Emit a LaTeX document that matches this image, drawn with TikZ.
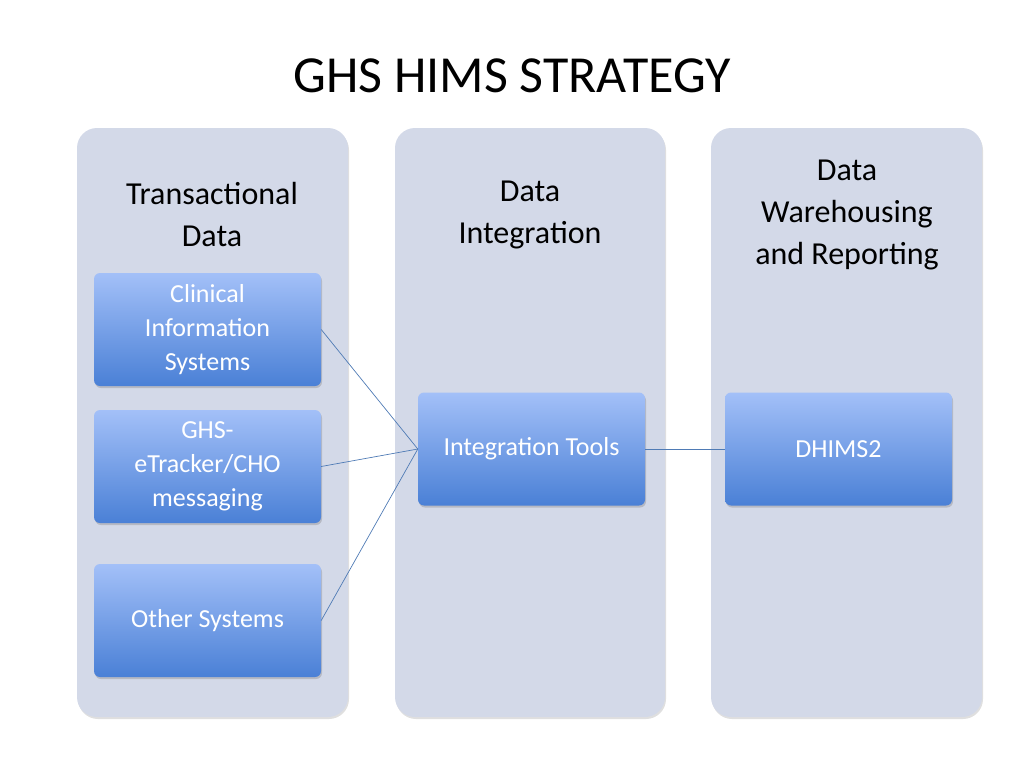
\documentclass[tikz,border=0pt]{standalone}
\usepackage{fontspec}
\setmainfont{Carlito}
\usetikzlibrary{shadows}
\begin{document}
\begin{tikzpicture}[x=1pt,y=-1pt,
 col/.style={fill=colbg,rounded corners=20pt,drop shadow={opacity=0.25,shadow xshift=1pt,shadow yshift=-2pt}},
 hdr/.style={font=\fontsize{32}{42}\selectfont,align=center,text=black},
 bx/.style={rounded corners=6pt,top color=boxtop,bottom color=boxbot,draw=none,text=white,align=center,
   font=\fontsize{26}{34}\selectfont,drop shadow={opacity=0.35,shadow xshift=1pt,shadow yshift=-2pt},
   minimum width=227pt,minimum height=113pt,inner sep=2pt},
 ln/.style={draw=lncol,line width=0.7pt}]
\definecolor{colbg}{HTML}{D3D9E8}
\definecolor{boxtop}{HTML}{A3C0F8}
\definecolor{boxbot}{HTML}{4A80D6}
\definecolor{lncol}{HTML}{4F7BB5}
\useasboundingbox (0,0) rectangle (1024,768);
\node (title) at (512,76) {\fontsize{52}{60}\selectfont GHS HIMS STRATEGY};
\path[col] (77,128) rectangle (348,717);
\path[col] (395,128) rectangle (665,717);
\path[col] (711,128) rectangle (982,717);
\node[hdr] (h1) at (212,215) {Transactional\\Data};
\node[hdr] (h2) at (530,215) {Data\\Integration};
\node[hdr] (h3) at (847,215) {Data\\Warehousing\\and Reporting};
\node[bx] (cis) at (207.5,329.5) {Clinical\\Information\\Systems};
\node[bx] (ghs) at (207.5,466.5) {GHS-\\eTracker/CHO\\messaging};
\node[bx] (oth) at (207.5,620.5) {Other Systems};
\node[bx] (int) at (531.5,449) {Integration Tools};
\node[bx] (dh) at (838.5,449) {DHIMS2};
\draw[ln] (cis.east) -- (int.west);
\draw[ln] (ghs.east) -- (int.west);
\draw[ln] (oth.east) -- (int.west);
\draw[ln] (int.east) -- (dh.west);
\end{tikzpicture}
\end{document}
